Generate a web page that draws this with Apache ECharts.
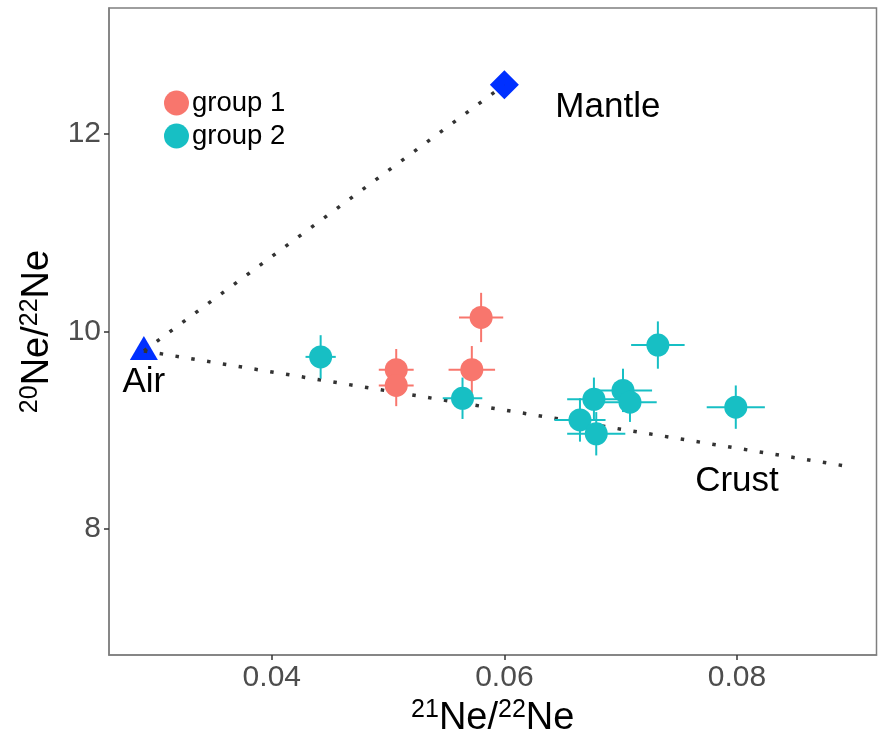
<!DOCTYPE html>
<html>
<head>
<meta charset="utf-8">
<script src="https://cdn.jsdelivr.net/npm/echarts@6/dist/echarts.min.js"></script>
<style>
  html, body { margin: 0; padding: 0; background: #fff; }
  #chart { width: 878px; height: 749px; }
</style>
</head>
<body>
<div id="chart"></div>
<script>
// Neon isotope ratios: 21Ne/22Ne (x) vs 20Ne/22Ne (y)
const group1X    = [0.0580, 0.0572, 0.0507, 0.0507];
const group1Y    = [10.14, 9.61, 9.61, 9.45];
const group1XErr = [0.0019, 0.0020, 0.0015, 0.0015];
const group1YErr = [0.25, 0.24, 0.21, 0.21];

const group2X    = [0.0442, 0.0564, 0.0732, 0.0799, 0.0702, 0.0708, 0.0677, 0.0665, 0.0679];
const group2Y    = [9.74, 9.32, 9.86, 9.23, 9.40, 9.28, 9.31, 9.10, 8.96];
const group2XErr = [0.0013, 0.0017, 0.0023, 0.0025, 0.0025, 0.0023, 0.0023, 0.0022, 0.0025];
const group2YErr = [0.22, 0.21, 0.24, 0.22, 0.22, 0.20, 0.22, 0.22, 0.22];

// end-members and mixing lines
const air    = [0.029, 9.8];
const mantle = [0.060, 12.5];
const crust  = [0.090, 8.62];

const endLabels    = ['Mantle', 'Air', 'Crust'];
const endLabelPos  = [[0.0689, 12.27], [0.0290, 9.48], [0.0800, 8.48]];

const xTicks = [0.04, 0.06, 0.08];
const yTicks = [8, 10, 12];

const RED = '#F8766D';
const TEAL = '#17BFC4';
const BLUE = '#0030FF';
const FONT = '"Liberation Sans", Arial, sans-serif';

function errorBars(xs, ys, xe, ye) {
  return xs.map((x, i) => [x, ys[i], xe[i], ye[i]]);
}

function renderErr(color) {
  return function (params, api) {
    const x = api.value(0), y = api.value(1), ex = api.value(2), ey = api.value(3);
    const l = api.coord([x - ex, y]), r = api.coord([x + ex, y]);
    const t = api.coord([x, y + ey]), b = api.coord([x, y - ey]);
    const style = { stroke: color, lineWidth: 2 };
    return {
      type: 'group',
      children: [
        { type: 'line', shape: { x1: l[0], y1: l[1], x2: r[0], y2: r[1] }, style },
        { type: 'line', shape: { x1: t[0], y1: t[1], x2: b[0], y2: b[1] }, style }
      ]
    };
  };
}

const dotted = { color: '#333333', width: 3.5, type: [3.5, 12.5], cap: 'butt' };

const nameRich = {
  b: { fontSize: 38, fontFamily: FONT, color: '#000' },
  s: { fontSize: 25, fontFamily: FONT, color: '#000', padding: [0, 0, 16, 0] }
};

const chart = echarts.init(document.getElementById('chart'), null, { renderer: 'canvas' });
chart.setOption({
  animation: false,
  backgroundColor: '#fff',
  grid: { left: 109, top: 8, right: 1.5, bottom: 94, show: true, borderColor: '#7f7f7f', borderWidth: 1.5, containLabel: false },
  legend: {
    orient: 'vertical', left: 159, top: 84,
    data: ['group 1', 'group 2'],
    icon: 'circle', itemWidth: 25, itemHeight: 25, itemGap: 5,
    itemStyle: { opacity: 1 },
    textStyle: { fontSize: 27.5, fontFamily: FONT, color: '#000', padding: [0, 0, 0, -2] }
  },
  xAxis: {
    type: 'value', min: 0.026, max: 0.092,
    name: '{s|21}{b|Ne/}{s|22}{b|Ne}', nameLocation: 'middle', nameGap: 42,
    nameTextStyle: { rich: nameRich },
    axisLine: { show: true, lineStyle: { color: '#7f7f7f', width: 1.5 } },
    axisTick: { show: true, length: 5, customValues: xTicks, lineStyle: { color: '#333', width: 1.5 } },
    axisLabel: { customValues: xTicks, fontSize: 30, fontFamily: FONT, color: '#4D4D4D', margin: 8,
      formatter: v => v.toFixed(2) },
    splitLine: { show: false }
  },
  yAxis: {
    type: 'value', min: 6.715, max: 13.28,
    name: '{s|20}{b|Ne/}{s|22}{b|Ne}', nameLocation: 'middle', nameGap: 44,
    nameTextStyle: { rich: nameRich },
    axisLine: { show: true, lineStyle: { color: '#7f7f7f', width: 1.5 } },
    axisTick: { show: true, length: 5, customValues: yTicks, lineStyle: { color: '#333', width: 1.5 } },
    axisLabel: { customValues: yTicks, fontSize: 30, fontFamily: FONT, color: '#4D4D4D', margin: 8,
      formatter: v => String(v) },
    splitLine: { show: false }
  },
  series: [
    { type: 'line', name: 'air-mantle', data: [air, mantle], symbol: 'none', lineStyle: dotted, silent: true, z: 1 },
    { type: 'line', name: 'air-crust', data: [air, crust], symbol: 'none', lineStyle: dotted, silent: true, z: 1 },
    { type: 'custom', name: 'err1', renderItem: renderErr(RED), data: errorBars(group1X, group1Y, group1XErr, group1YErr), z: 2 },
    { type: 'custom', name: 'err2', renderItem: renderErr(TEAL), data: errorBars(group2X, group2Y, group2XErr, group2YErr), z: 2 },
    { type: 'scatter', name: 'group 1', data: group1X.map((x, i) => [x, group1Y[i]]), symbolSize: 23,
      itemStyle: { color: RED, opacity: 1 }, z: 3 },
    { type: 'scatter', name: 'group 2', data: group2X.map((x, i) => [x, group2Y[i]]), symbolSize: 23,
      itemStyle: { color: TEAL, opacity: 1 }, z: 3 },
    { type: 'scatter', name: 'Air', data: [air], symbol: 'triangle', symbolSize: [28, 24], symbolOffset: [0, -3],
      itemStyle: { color: BLUE, opacity: 1 }, z: 0 },
    { type: 'scatter', name: 'Mantle', data: [mantle], symbol: 'diamond', symbolSize: 29,
      itemStyle: { color: BLUE, opacity: 1 }, z: 0 },
    { type: 'scatter', name: 'labels', data: endLabelPos.map((p, i) => ({ value: p, name: endLabels[i] })),
      symbolSize: 0, silent: true, z: 5, itemStyle: { opacity: 1 },
      label: { show: true, position: 'inside', formatter: p => p.name, fontSize: 35, fontFamily: FONT, color: '#000' } }
  ]
});
</script>
</body>
</html>
